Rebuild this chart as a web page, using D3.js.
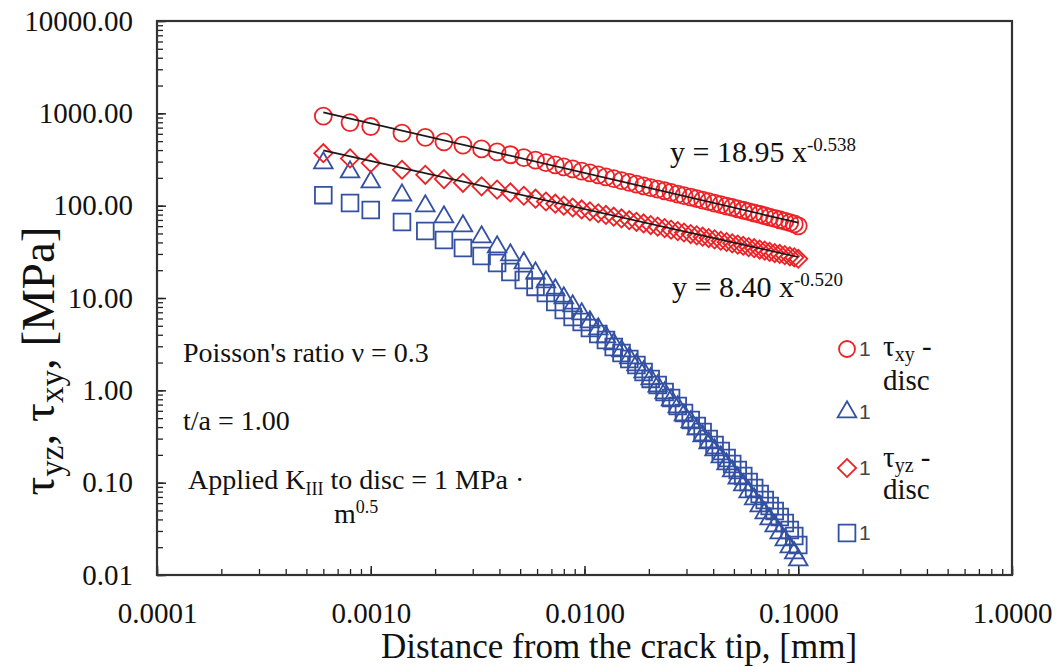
<!DOCTYPE html>
<html>
<head>
<meta charset="utf-8">
<script src="https://cdn.jsdelivr.net/npm/d3@7"></script>
<style>
  body { margin: 0; background: #fff; }
  svg text, svg tspan { font-family: "Liberation Serif", "Times New Roman", serif; fill: #111; }
  svg text.sans { font-family: "Liberation Sans", Arial, sans-serif; fill: #444; }
</style>
</head>
<body>
<div id="chart"></div>
<script>
// distance from crack tip [mm]
var distance = [0.0006,0.0008,0.0010,0.0014,0.0018,0.0022,0.0027,0.0033,0.0039,0.0045,
  0.0052,0.0059,0.0066,0.0073,0.0080,0.0088,0.0097,0.0106,0.0116,0.0126,
  0.0137,0.0149,0.0162,0.0175,0.0189,0.0204,0.0220,0.0237,0.0254,0.0273,
  0.0292,0.0314,0.0335,0.0357,0.0381,0.0406,0.0434,0.0462,0.0491,0.0521,
  0.0553,0.0586,0.0622,0.0660,0.0697,0.0735,0.0776,0.0819,0.0865,0.0913,
  0.0958,0.1000];

// tau_xy - disc (circles)
var tauXYDisc = [935,795,720,610,548,492,452,412,382,356,
  332,311,293,277,263,250,237,226,215,205,
  196,187,179,171,164,157,151,145,139,133.5,
  128.5,123.5,119,114.8,110.6,106.6,102.7,99.1,95.6,92.4,
  89.2,86.3,83.3,80.4,77.8,75.3,72.8,70.4,68,65.6,
  63.4,60.5];

// second series (triangles)
var series1Tri = [290,231,180,130,99.2,75.4,60.2,45.8,35.7,29.2,
  23.9,18.6,14.9,12.2,10.0,8.19,6.71,5.50,4.62,3.78,
  3.18,2.67,2.24,1.88,1.58,1.33,1.11,0.935,0.786,0.660,
  0.540,0.454,0.381,0.320,0.269,0.226,0.190,0.159,0.134,0.112,
  0.0943,0.0792,0.0665,0.0558,0.0469,0.0404,0.0339,0.0285,0.0239,0.0201,
  0.0173,0.0145];

// tau_yz - disc (diamonds)
var tauYZDisc = [370,325,290,245,216,194,177,162,149,139,
  128,119,111,105,100,95.5,91,86.8,82.8,79.3,
  75.9,72.7,69.6,66.9,64.2,61.7,59.3,57.1,55.0,53.0,
  51.2,49.3,47.7,46.1,44.6,43.2,41.7,40.4,39.1,37.9,
  36.8,35.6,34.6,33.5,32.6,31.6,30.7,30.0,29.1,28.3,
  27.5,26.6];

// fourth series (squares)
var series1Sq = [130,107,89.7,66.5,53.2,42.5,34.8,28.5,23.9,19.1,
  15.7,13.2,11.3,9.05,7.41,6.22,5.50,4.73,4.07,3.51,
  2.94,2.54,2.18,1.88,1.58,1.33,1.14,0.96,0.826,0.676,
  0.568,0.477,0.411,0.354,0.297,0.256,0.220,0.185,0.159,0.137,
  0.118,0.1016,0.0875,0.0753,0.0649,0.0558,0.0493,0.0425,0.0366,0.0307,
  0.0264,0.0211];

// power-law trendlines y = a x^b
var fitXY = [18.95, -0.538];
var fitYZ = [8.40, -0.520];
var fitRange = [0.0006, 0.1];

var xTicks = [0.0001, 0.001, 0.01, 0.1, 1];
var yTicks = [0.01, 0.1, 1, 10, 100, 1000, 10000];

var W = 1057, H = 667;
var red = "#ec2227", blue = "#3350a2";
var SERIF = "'Liberation Serif', 'Times New Roman', serif";

var svg = d3.select("#chart").append("svg")
    .attr("width", W).attr("height", H);

var x = d3.scaleLog().domain([0.0001, 1]).range([157, 1012]);
var y = d3.scaleLog().domain([0.01, 10000]).range([575, 21]);

// minor ticks
svg.append("g")
    .attr("transform", "translate(157,0)")
    .call(d3.axisLeft(y).tickValues(y.ticks()).tickSize(-6).tickFormat(""))
    .call(function(g){ g.select(".domain").remove(); g.selectAll("line").attr("stroke", "#222").attr("stroke-width", 1.3); });
svg.append("g")
    .attr("transform", "translate(0,575)")
    .call(d3.axisBottom(x).tickValues(x.ticks()).tickSize(-6).tickFormat(""))
    .call(function(g){ g.select(".domain").remove(); g.selectAll("line").attr("stroke", "#222").attr("stroke-width", 1.3); });

// major ticks + labels
var yAxis = svg.append("g")
    .attr("transform", "translate(157,0)")
    .call(d3.axisLeft(y).tickValues(yTicks).tickSizeInner(-9).tickSizeOuter(0).tickPadding(24).tickFormat(d3.format(".2f")));
yAxis.attr("font-family", null);
yAxis.select(".domain").remove();
yAxis.selectAll("line").attr("stroke", "#222").attr("stroke-width", 1.5);
yAxis.selectAll("text").attr("font-size", 29).style("font-family", SERIF).attr("fill", "#111");

var xAxis = svg.append("g")
    .attr("transform", "translate(0,575)")
    .call(d3.axisBottom(x).tickValues(xTicks).tickSizeInner(-9).tickSizeOuter(0).tickPadding(27).tickFormat(d3.format(".4f")));
xAxis.attr("font-family", null);
xAxis.select(".domain").remove();
xAxis.selectAll("line").attr("stroke", "#222").attr("stroke-width", 1.5);
xAxis.selectAll("text").attr("font-size", 29).style("font-family", SERIF).attr("fill", "#111");

// frame
svg.append("rect")
    .attr("x", 157).attr("y", 21).attr("width", 1012 - 157).attr("height", 575 - 21)
    .attr("fill", "none").attr("stroke", "#333").attr("stroke-width", 2.2);

var pts = function(arr) { return distance.map(function(d, i){ return [d, arr[i]]; }); };

var symTri = d3.symbol().type(d3.symbolTriangle).size(150);
var symSq = d3.symbol().type(d3.symbolSquare).size(280);
var symDia = d3.symbol().type(d3.symbolSquare).size(165);

// circles
svg.append("g").selectAll("circle")
    .data(pts(tauXYDisc)).enter().append("circle")
    .attr("cx", function(d){ return x(d[0]); })
    .attr("cy", function(d){ return y(d[1]); })
    .attr("r", 8.5)
    .attr("fill", "none").attr("stroke", red).attr("stroke-width", 1.8);

// triangles
svg.append("g").selectAll("path")
    .data(pts(series1Tri)).enter().append("path")
    .attr("d", symTri)
    .attr("transform", function(d){ return "translate(" + x(d[0]) + "," + y(d[1]) + ")"; })
    .attr("fill", "none").attr("stroke", blue).attr("stroke-width", 1.8);

// diamonds
svg.append("g").selectAll("path")
    .data(pts(tauYZDisc)).enter().append("path")
    .attr("d", symDia)
    .attr("transform", function(d){ return "translate(" + x(d[0]) + "," + y(d[1]) + ") rotate(45)"; })
    .attr("fill", "none").attr("stroke", red).attr("stroke-width", 1.8);

// squares
svg.append("g").selectAll("path")
    .data(pts(series1Sq)).enter().append("path")
    .attr("d", symSq)
    .attr("transform", function(d){ return "translate(" + x(d[0]) + "," + y(d[1]) + ")"; })
    .attr("fill", "none").attr("stroke", blue).attr("stroke-width", 1.8);

// trendlines
var line = d3.line().x(function(d){ return x(d[0]); }).y(function(d){ return y(d[1]); });
[fitXY, fitYZ].forEach(function(f) {
  var seg = fitRange.map(function(v){ return [v, f[0] * Math.pow(v, f[1])]; });
  svg.append("path").attr("d", line(seg))
     .attr("fill", "none").attr("stroke", "#1a1a1a").attr("stroke-width", 1.7);
});

// rich text helper: parts = [[text, size, dy]]
function rich(xp, yp, parts, rot) {
  var t = svg.append("text")
      .attr("transform", "translate(" + xp + "," + yp + ")" + (rot ? " rotate(-90)" : ""))
      .attr("text-anchor", rot ? "middle" : "start")
      .style("font-family", SERIF);
  parts.forEach(function(p) {
    t.append("tspan").text(p[0]).attr("font-size", p[1]).attr("dy", p[2] || 0)
     .style("font-family", SERIF);
  });
  return t;
}

// equations
rich(670, 162, [["y = 18.95 x", 30], ["-0.538", 19, -11]]);
rich(672, 297, [["y = 8.40 x", 30], ["-0.520", 19, -11]]);

// annotations
rich(183, 362, [["Poisson's ratio \u03bd = 0.3", 28]]);
rich(183, 430, [["t/a = 1.00", 28]]);
rich(188, 489, [["Applied K", 28], ["III", 18, 6], [" to disc = 1 MPa \u00b7", 28, -6]]);
rich(334, 523, [["m", 28], ["0.5", 18, -10]]);

// axis titles
rich(54, 361, [["\u03c4", 47], ["yz", 33, 9], [", \u03c4", 47, -9], ["xy", 33, 9], [", [MPa]", 47, -9]], true);
svg.append("text").attr("x", 619).attr("y", 658).attr("text-anchor", "middle")
    .attr("font-size", 35).style("font-family", SERIF).text("Distance from the crack tip, [mm]");

// legend
var leg = svg.append("g");
leg.append("circle").attr("cx", 847).attr("cy", 349).attr("r", 8)
   .attr("fill", "none").attr("stroke", red).attr("stroke-width", 1.8);
leg.append("path").attr("d", symTri).attr("transform", "translate(847,412)")
   .attr("fill", "none").attr("stroke", blue).attr("stroke-width", 1.8);
leg.append("path").attr("d", symDia).attr("transform", "translate(847,468) rotate(45)")
   .attr("fill", "none").attr("stroke", red).attr("stroke-width", 1.8);
leg.append("path").attr("d", symSq).attr("transform", "translate(847,533)")
   .attr("fill", "none").attr("stroke", blue).attr("stroke-width", 1.8);
[349, 412, 468, 533].forEach(function(cy) {
  leg.append("text").attr("class", "sans").attr("x", 859).attr("y", cy + 7).attr("font-size", 21)
     .text("1");
});
rich(883, 356, [["\u03c4", 29], ["xy", 20, 5], [" -", 29, -5]]);
rich(883, 390, [["disc", 29]]);
rich(883, 467, [["\u03c4", 29], ["yz", 20, 5], [" -", 29, -5]]);
rich(883, 499, [["disc", 29]]);
</script>
</body>
</html>
